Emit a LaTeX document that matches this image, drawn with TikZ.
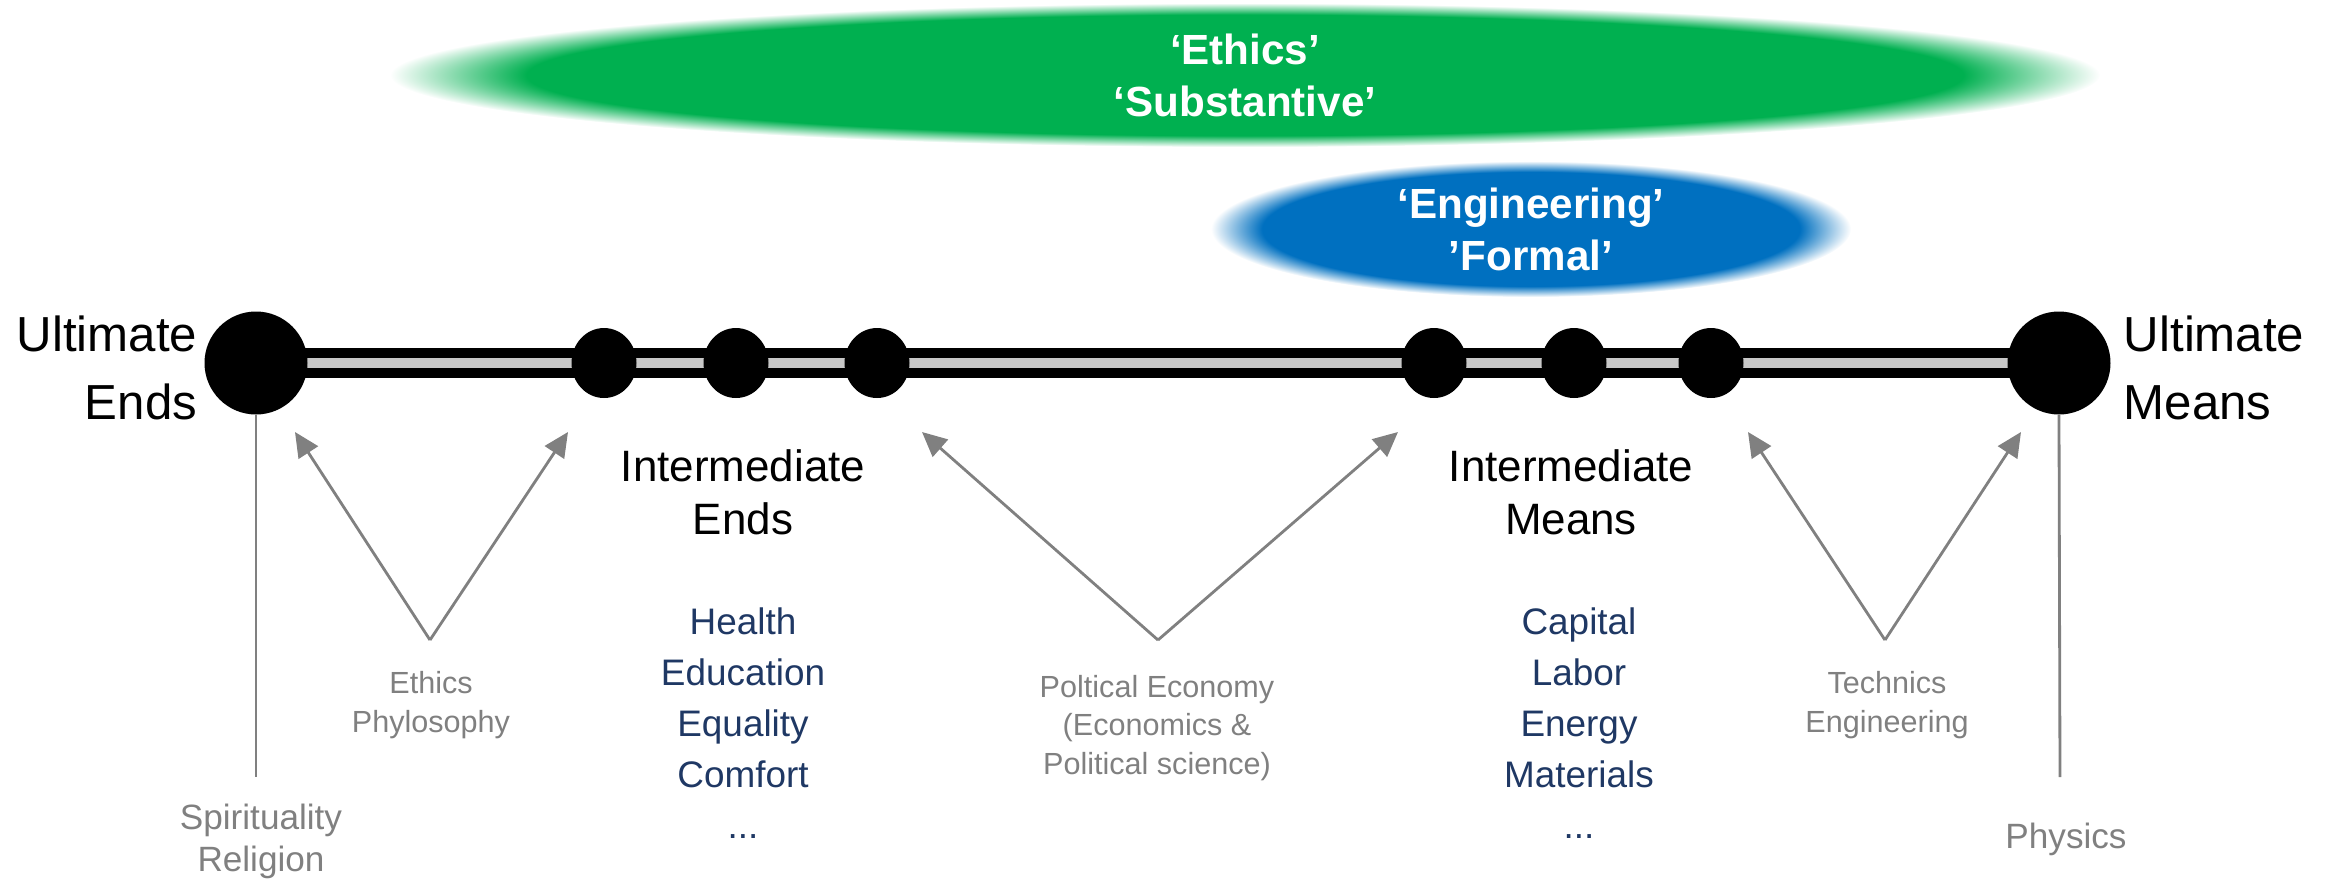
\documentclass[tikz,border=0pt]{standalone}
\usepackage{fontspec}
\setmainfont{Liberation Sans}
\usepackage{tikz}
\usetikzlibrary{
        arrows.meta,
        backgrounds,
        positioning,
        shapes.geometric
    }
\definecolor{ethicsgreen}{RGB}{0,176,80}
\definecolor{engblue}{RGB}{0,112,192}
\definecolor{listblue}{RGB}{31,56,100}
\definecolor{notegray}{RGB}{128,128,128}
\definecolor{barfill}{RGB}{200,200,200}
\pgfdeclareradialshading{greenglow}{\pgfpoint{0bp}{0bp}}{color(0bp)=(ethicsgreen); color(21bp)=(ethicsgreen); color(25bp)=(white); color(50bp)=(white)}
\pgfdeclareradialshading{blueglow}{\pgfpoint{0bp}{0bp}}{color(0bp)=(engblue); color(21bp)=(engblue); color(25bp)=(white); color(50bp)=(white)}
\tikzset{>={Triangle[length=7pt,width=6.5pt]},node distance=2cm}
\tikzset{
    bigdot/.style={circle,fill=black,minimum size=1.03cm,inner sep=0pt},
    dot/.style={ellipse,fill=black,minimum width=0.65cm,minimum height=0.70cm,inner sep=0pt},
    glow/.style={ellipse,shade,inner sep=0pt,text=white,align=center,font=\bfseries\fontsize{12}{14.8}\selectfont},
    bar/.style={line width=0.1cm,draw=black,double=barfill,double distance=0.1cm},
    endlabel/.style={inner sep=0pt,font=\fontsize{14}{19.3}\selectfont},
    midlabel/.style={align=center,font=\fontsize{12.5}{15}\selectfont},
    itemlist/.style={align=center,text=listblue,font=\fontsize{10.5}{14.5}\selectfont},
    discipline/.style={align=center,text=notegray,font=\fontsize{8.7}{10.9}\selectfont},
    basis/.style={align=center,text=notegray,font=\fontsize{10}{11.9}\selectfont},
    link/.style={draw,color=notegray,line width=0.8pt},
}

\begin{document}
\begin{tikzpicture}
    \useasboundingbox (0,0) rectangle (23.31,8.79);
    % the two fields
    \node[glow,shading=greenglow,minimum width=17.1cm,minimum height=1.44cm] (ethics) at (12.45,8.04) {‘Ethics’\\‘Substantive’};
    \node[glow,shading=blueglow,minimum width=6.4cm,minimum height=1.36cm] (eng) at (15.31,6.50) {‘Engineering’\\’Formal’};

    % the scale from ends to means
    \node[bigdot] (ue) at (2.56,5.16) {};
    \node[dot]    (e1) at (6.04,5.16) {};
    \node[dot]    (e2) at (7.36,5.16) {};
    \node[dot]    (e3) at (8.77,5.16) {};
    \node[dot]    (m1) at (14.34,5.16) {};
    \node[dot]    (m2) at (15.74,5.16) {};
    \node[dot]    (m3) at (17.11,5.16) {};
    \node[bigdot] (um) at (20.59,5.16) {};
    \begin{scope}[on background layer]
        \draw[bar] (ue.center) -- (um.center);
    \end{scope}

    \node[endlabel,align=right,anchor=east] (uelabel) [left=0.06cm of ue,yshift=-0.05cm] {Ultimate\\Ends};
    \node[endlabel,align=left,anchor=west]  (umlabel) [right=0.12cm of um,yshift=-0.05cm] {Ultimate\\Means};
    \node[midlabel] (ielabel) at (7.43,3.87) {Intermediate\\Ends};
    \node[midlabel] (imlabel) at (15.71,3.87) {Intermediate\\Means};

    \node[itemlist] (endlist)  at (7.43,1.56) {Health\\Education\\Equality\\Comfort\\...};
    \node[itemlist] (meanlist) at (15.79,1.56) {Capital\\Labor\\Energy\\Materials\\...};

    % disciplines between the points
    \node[discipline] (phil) at (4.31,1.74) {Ethics\\Phylosophy};
    \node[discipline] (poli) at (11.57,1.51) {Poltical Economy\\(Economics \&\\Political science)};
    \node[discipline] (tech) at (18.87,1.74) {Technics\\Engineering};
    \node[basis] (spirit) at (2.61,0.38) {Spirituality\\Religion};
    \node[basis] (phys)   at (20.66,0.40) {Physics};

    \coordinate (philv) at (4.30,2.39);
    \coordinate (philL) at (2.95,4.47);
    \coordinate (philR) at (5.68,4.47);
    \coordinate (poliv) at (11.58,2.39);
    \coordinate (poliL) at (9.22,4.47);
    \coordinate (poliR) at (13.98,4.47);
    \coordinate (techv) at (18.85,2.39);
    \coordinate (techL) at (17.48,4.47);
    \coordinate (techR) at (20.21,4.47);
    \coordinate (spiritend) at (2.56,1.02);
    \coordinate (physend)   at (20.60,1.02);

    \path[->]
        (philv) edge[link] (philL)
        (philv) edge[link] (philR)
        (poliv) edge[link] (poliL)
        (poliv) edge[link] (poliR)
        (techv) edge[link] (techL)
        (techv) edge[link] (techR)
    ;
    \draw[link] (ue.south) -- (spiritend);
    \draw[link] (um.south) -- (physend);
\end{tikzpicture}
\end{document}
